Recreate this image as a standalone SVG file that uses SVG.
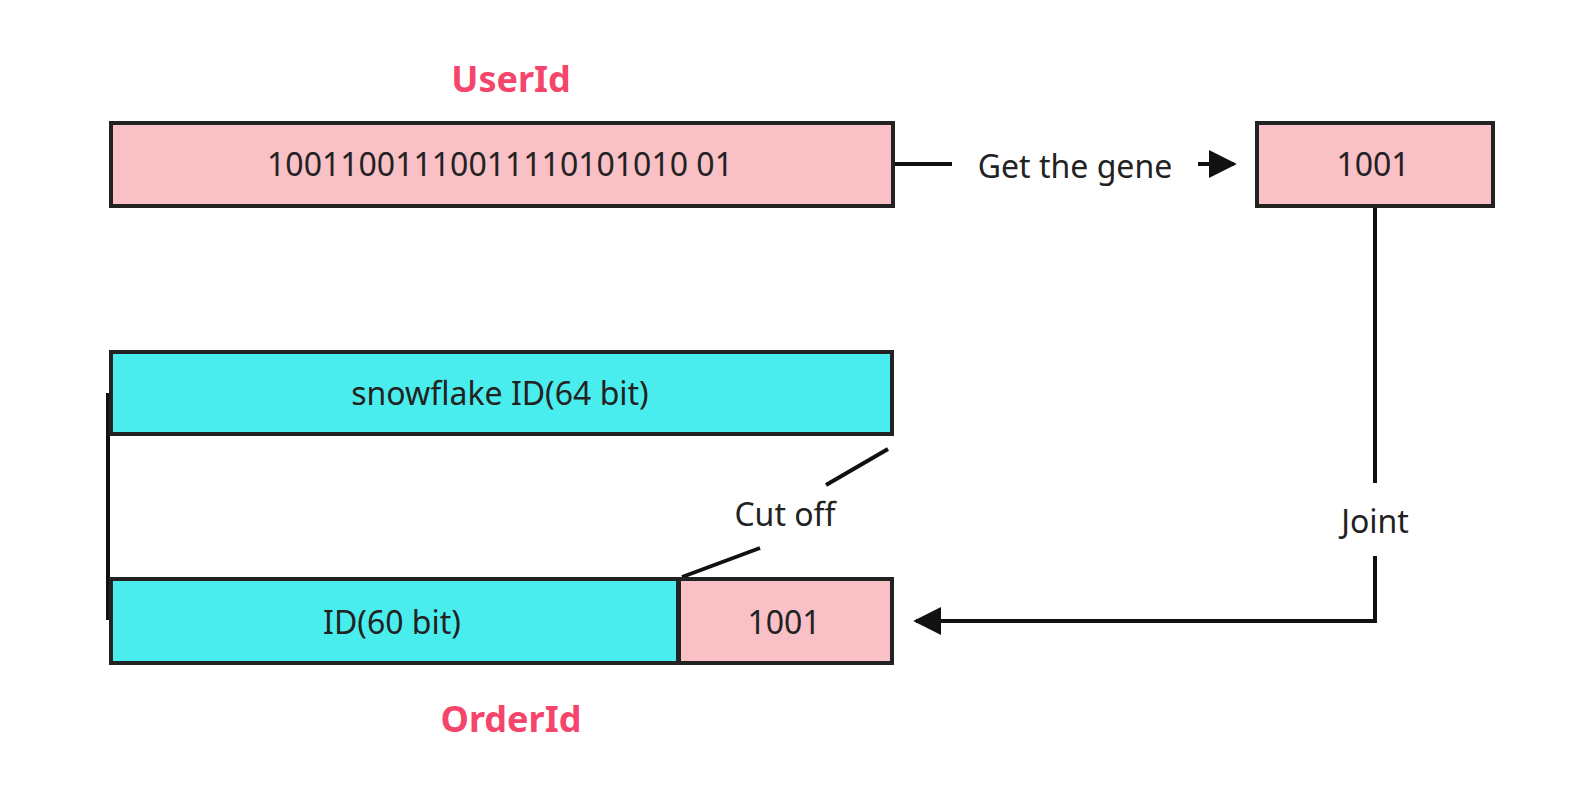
<svg xmlns="http://www.w3.org/2000/svg" width="1574" height="795" viewBox="0 0 1574 795">
<style>
text{font-family:"Noto Sans","Liberation Sans",sans-serif;font-size:32px;fill:#222;text-anchor:middle;dominant-baseline:central}
.t{fill:#f5456a;font-weight:bold;font-size:36px}
.p{fill:#f9c0c6;stroke:#222;stroke-width:4}
.c{fill:#4aeded;stroke:#222;stroke-width:4}
.l{fill:none;stroke:#111;stroke-width:4}
</style>
<defs><marker id="a" viewBox="0 0 10 10" refX="9" refY="5" markerWidth="7" markerHeight="7" markerUnits="userSpaceOnUse" orient="auto"><path d="M0,0L10,5L0,10z" fill="#111"/></marker>
<marker id="b" viewBox="0 0 10 10" refX="9" refY="5" markerWidth="7" markerHeight="7" orient="auto"><path d="M0,0L10,5L0,10z" fill="#111"/></marker></defs>
<rect width="1574" height="795" fill="#fff"/>
<g id="connectors">
<path class="l" d="M893,164H952"/>
<path class="l" d="M1198,164H1234" marker-end="url(#b)"/>
<path class="l" d="M1375,206V483"/>
<path class="l" d="M1375,556V621H916" marker-end="url(#b)"/>
<path class="l" d="M108,393V620"/>
<path class="l" d="M888,449L826,485"/>
<path class="l" d="M760,548L682,577"/>
<text x="1075" y="165">Get the gene</text>
<text x="1375" y="520">Joint</text>
<text x="785" y="513">Cut off</text>
</g>
<g id="userid-label"><text class="t" x="511" y="78">UserId</text></g>
<g id="userid"><rect class="p" x="111" y="123" width="782" height="83"/><text x="500" y="163">10011001110011110101010 01</text></g>
<g id="gene"><rect class="p" x="1257" y="123" width="236" height="83"/><text x="1373" y="163">1001</text></g>
<g id="snowflake"><rect class="c" x="111" y="352" width="781" height="82"/><text x="500" y="392">snowflake ID(64 bit)</text></g>
<g id="id60"><rect class="c" x="111" y="579" width="567" height="84"/><text x="392" y="621">ID(60 bit)</text></g>
<g id="suffix"><rect class="p" x="679" y="579" width="213" height="84"/><text x="784" y="621">1001</text></g>
<g id="orderid-label"><text class="t" x="511" y="718">OrderId</text></g>
</svg>
